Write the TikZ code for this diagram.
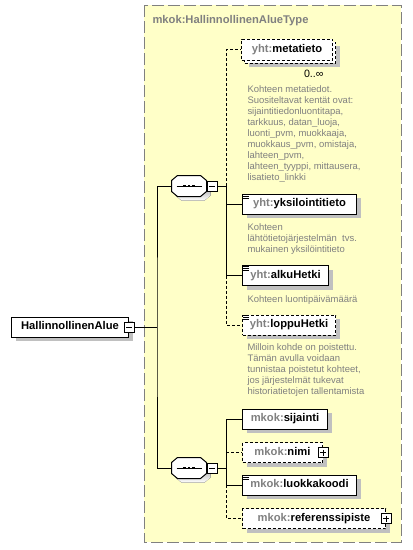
\documentclass[tikz,border=0pt]{standalone}
\usepackage{fontspec}
\setmainfont{Liberation Sans}
\usetikzlibrary{shadows}

\definecolor{areafill}{RGB}{255,255,200}
\definecolor{areaedge}{RGB}{128,128,128}
\definecolor{shade}{RGB}{192,192,192}
\definecolor{pfxgray}{RGB}{128,128,128}
\definecolor{notegray}{RGB}{128,128,128}

\newcommand{\qn}[2]{{\color{pfxgray}#1:}#2}

\tikzset{
  box/.style={draw, fill=white, anchor=west, minimum height=15pt, inner sep=0pt,
    text height=6.2pt, text depth=1.8pt, font=\fontsize{8.4}{10}\selectfont\bfseries},
  elem/.style={box, general shadow={fill=shade, shadow xshift=3pt, shadow yshift=-3pt}},
  opt/.style={dash pattern=on 2.25pt off 1.5pt},
  toggle/.style={draw, fill=white, minimum size=7.5pt, inner sep=0pt},
  minusbox/.style={toggle, path picture={
    \draw ([xshift=1.5pt]path picture bounding box.west) -- ([xshift=-1.5pt]path picture bounding box.east);}},
  plusbox/.style={toggle, path picture={
    \draw ([xshift=1.5pt]path picture bounding box.west) -- ([xshift=-1.5pt]path picture bounding box.east);
    \draw ([yshift=-1.5pt]path picture bounding box.north) -- ([yshift=1.5pt]path picture bounding box.south);}},
  seqbox/.style={minimum width=25.5pt, minimum height=15pt, inner sep=0pt},
  note/.style={anchor=north west, align=left, inner sep=0pt, text=notegray,
    font=\fontsize{7.1}{8.25}\selectfont},
}

\begin{document}
\begin{tikzpicture}[x=0.75pt, y=-0.75pt, line width=0.75pt]
  \useasboundingbox (0,0) rectangle (412,550);

  % type area
  \draw[areaedge, fill=areafill, dash pattern=on 9pt off 3pt] (144,5) rectangle (401,542);
  \node (typename) [anchor=base west, inner sep=0pt, text=pfxgray,
    font=\fontsize{8.4}{10}\selectfont\bfseries] at (152,23) {mkok:HallinnollinenAlueType};

  % root element
  \node (root) [elem, minimum width=87.75pt] at (11,327) {HallinnollinenAlue};
  \node (rootmin) [minusbox] at (root.east) {};
  \coordinate (trunk) at (157,327);

  % sequences
  \node (seq1) [seqbox] at (189,186) {};
  \node (seq2) [seqbox] at (189,468) {};
  \foreach \s in {seq1,seq2} {
    \fill[shade, transform canvas={shift={(3pt,-3pt)}}] ([xshift=4.5pt]\s.north west) -- ([xshift=-4.5pt]\s.north east)
      -- ([yshift=-3.75pt]\s.north east) -- ([yshift=3.75pt]\s.south east)
      -- ([xshift=-4.5pt]\s.south east) -- ([xshift=4.5pt]\s.south west)
      -- ([yshift=3.75pt]\s.south west) -- ([yshift=-3.75pt]\s.north west) -- cycle;
    \draw[fill=white] ([xshift=4.5pt]\s.north west) -- ([xshift=-4.5pt]\s.north east)
      -- ([yshift=-3.75pt]\s.north east) -- ([yshift=3.75pt]\s.south east)
      -- ([xshift=-4.5pt]\s.south east) -- ([xshift=4.5pt]\s.south west)
      -- ([yshift=3.75pt]\s.south west) -- ([yshift=-3.75pt]\s.north west) -- cycle;
    \draw ([xshift=3.75pt]\s.west) -- ([xshift=-3.75pt]\s.east);
    \foreach \d in {-3.4pt,0pt,3.4pt}
      \fill ([xshift=\d]\s.center) +(-1pt,-1pt) rectangle +(1pt,1pt);
  }
  \node (seq1min) [minusbox, anchor=west] at (seq1.east) {};
  \coordinate (bus1) at (226.5,186);
  \node (seq2min) [minusbox, anchor=west] at (seq2.east) {};
  \coordinate (bus2) at (226.5,468);

  % first sequence
  \node (metaback) [elem, opt, minimum width=68.25pt, minimum height=15.75pt] at (244,52.5) {};
  \node (metatieto) [box, opt, minimum width=68.25pt, minimum height=15.75pt] at (241,49.5) {\qn{yht}{metatieto}};
  \node (metacount) [anchor=base east, inner sep=0pt, font=\fontsize{8}{9}\selectfont] at (324,77) {0..∞};
  \node (metanote) [note] at (247,85) {Kohteen metatiedot.\\Suositeltavat kentät ovat:\\sijaintitiedonluontitapa,\\tarkkuus, datan\_luoja,\\luonti\_pvm, muokkaaja,\\muokkaus\_pvm, omistaja,\\lahteen\_pvm,\\lahteen\_tyyppi, mittausera,\\lisatieto\_linkki};
  \node (yksilointitieto) [elem, minimum width=85.5pt] at (242,204) {\qn{yht}{yksilointitieto}};
  \node (yksnote) [note] at (247,223) {Kohteen\\lähtötietojärjestelmän\ \ tvs.\\mukainen yksilöintitieto};
  \node (alkuHetki) [elem, minimum width=64.5pt] at (242,275.5) {\qn{yht}{alkuHetki}};
  \node (alkunote) [note] at (247,295) {Kohteen luontipäivämäärä};
  \node (loppuHetki) [elem, opt, minimum width=69.75pt] at (242,325) {\qn{yht}{loppuHetki}};
  \node (loppunote) [note] at (247,343) {Milloin kohde on poistettu.\\Tämän avulla voidaan\\tunnistaa poistetut kohteet,\\jos järjestelmät tukevat\\historiatietojen tallentamista};

  % second sequence
  \node (sijainti) [elem, minimum width=63.75pt] at (242,419) {\qn{mkok}{sijainti}};
  \node (nimi) [elem, opt, minimum width=60pt] at (242,452.5) {\qn{mkok}{nimi}\hspace{6pt}};
  \node (nimiplus) [plusbox] at (nimi.east) {};
  \node (luokkakoodi) [elem, minimum width=85.5pt] at (242,485) {\qn{mkok}{luokkakoodi}};
  \node (referenssipiste) [elem, opt, minimum width=107.25pt] at (242,518.5) {\qn{mkok}{referenssipiste}\hspace{6pt}};
  \node (refplus) [plusbox] at (referenssipiste.east) {};

  % documentation marks
  \foreach \n in {yksilointitieto,alkuHetki,loppuHetki,luokkakoodi}
    \foreach \k in {1,3,5}
      \draw ([xshift=0.75pt,yshift=-\k*0.75pt]\n.north west) -- ++(4.5pt,0);

  % connectors
  \draw (rootmin.east) -- (trunk);
  \draw (seq1.west) -| (trunk) |- (seq2.west);
  \draw (seq1min.east) -- (bus1);
  \draw[opt] (bus1) |- (metatieto.west);
  \draw (bus1) |- (yksilointitieto.west);
  \draw (bus1) |- (alkuHetki.west);
  \draw[opt] (alkuHetki.west -| bus1) |- (loppuHetki.west);
  \draw (seq2min.east) -- (bus2);
  \draw (bus2) |- (sijainti.west);
  \draw (bus2) |- (luokkakoodi.west);
  \draw[opt] (bus2) |- (nimi.west);
  \draw[opt] (luokkakoodi.west -| bus2) |- (referenssipiste.west);
\end{tikzpicture}
\end{document}
